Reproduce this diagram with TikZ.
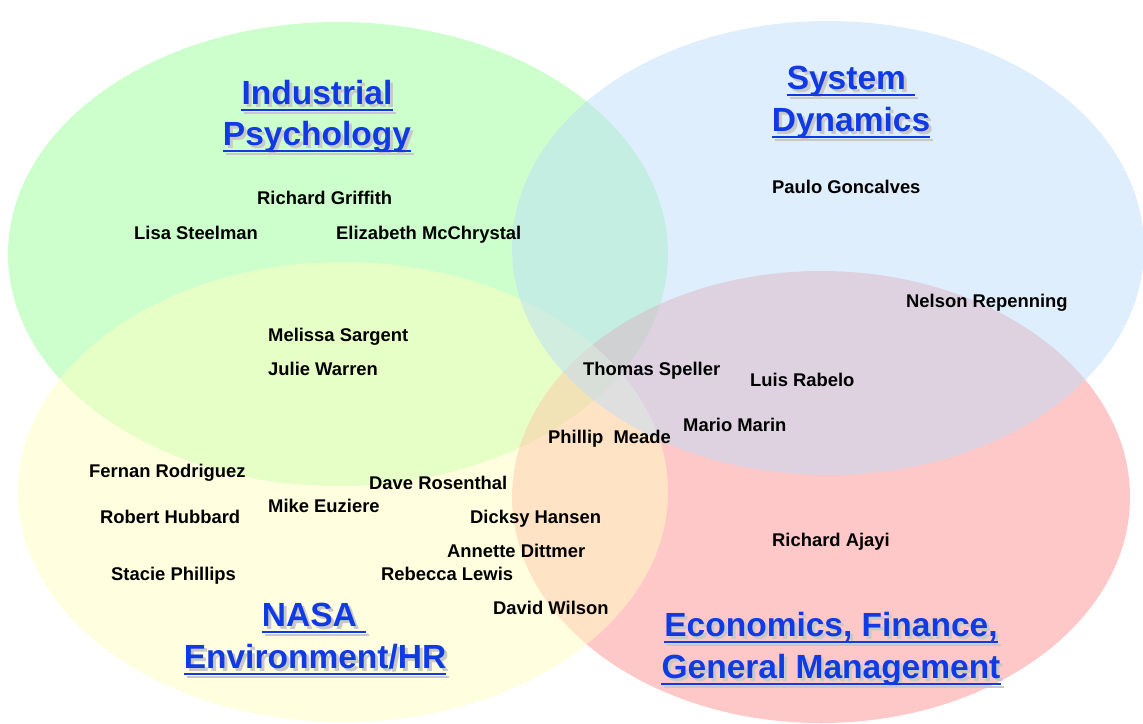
\documentclass[tikz,border=0pt]{standalone}
\usepackage{fontspec}
\setmainfont{Liberation Sans}
\definecolor{ttlblue}{RGB}{16,58,228}
\definecolor{shadowgray}{RGB}{200,200,200}
\definecolor{cgreen}{RGB}{153,255,153}
\definecolor{cblue}{RGB}{189,221,250}
\definecolor{cyellow}{RGB}{255,255,193}
\definecolor{cred}{RGB}{255,145,145}
\newcommand\ttlitem[4]{%
  \node[ttlsh] (#1s) at (#2+3,#3+3) {#4};
  \draw[ushadow] ([yshift=-6pt]#1s.base west) -- ([yshift=-6pt]#1s.base east);
  \node[ttl] (#1) at (#2,#3) {#4};
  \draw[uline] ([yshift=-6pt]#1.base west) -- ([yshift=-6pt]#1.base east);
}
\begin{document}
\begin{tikzpicture}[x=1pt,y=-1pt,
  person/.style={anchor=base west, inner sep=0pt, font=\fontsize{18.4}{20}\selectfont\bfseries},
  ttl/.style={anchor=base, inner sep=0pt, font=\fontsize{33.5}{36}\selectfont\bfseries, text=ttlblue},
  ttlsh/.style={ttl, text=shadowgray},
  uline/.style={draw=ttlblue, line width=2.5pt},
  ushadow/.style={draw=shadowgray, line width=2.5pt},
  blob/.style={fill opacity=0.5, draw=none}]
\useasboundingbox (0,0) rectangle (1143,723);
% circles
\fill[blob, cgreen]  (338,254) ellipse [x radius=330, y radius=232];
\fill[blob, cred]    (821,497) ellipse [x radius=309, y radius=226];
\fill[blob, cyellow] (343,492) ellipse [x radius=325, y radius=230];
\fill[blob, cblue]   (828,248) ellipse [x radius=316, y radius=227];
% titles
\ttlitem{ip1}{317}{104}{Industrial}
\ttlitem{ip2}{317}{145}{Psychology}
\ttlitem{sd1}{851}{89}{System\ \ }
\ttlitem{sd2}{851}{131}{Dynamics}
\ttlitem{na1}{314}{626}{NASA\ \ }
\ttlitem{na2}{315}{668}{Environment/HR}
\ttlitem{ec1}{831}{636}{Economics, Finance,}
\ttlitem{ec2}{831}{678}{General Management}
% people
\node[person] (rg) at (257,204) {Richard Griffith};
\node[person] (ls) at (134,239) {Lisa Steelman};
\node[person] (em) at (336,239) {Elizabeth McChrystal};
\node[person] (pg) at (772,193) {Paulo Goncalves};
\node[person] (nr) at (906,307) {Nelson Repenning};
\node[person] (ms) at (268,341) {Melissa Sargent};
\node[person] (jw) at (268,375) {Julie Warren};
\node[person] (ts) at (583,375) {Thomas Speller};
\node[person] (lr) at (750,386) {Luis Rabelo};
\node[person] (mm) at (683,431) {Mario Marin};
\node[person] (pm) at (548,443) {Phillip\ \ Meade};
\node[person] (fr) at (89,477) {Fernan Rodriguez};
\node[person] (dr) at (369,489) {Dave Rosenthal};
\node[person] (me) at (268,512) {Mike Euziere};
\node[person] (rh) at (100,523) {Robert Hubbard};
\node[person] (dh) at (470,523) {Dicksy Hansen};
\node[person] (ad) at (447,557) {Annette Dittmer};
\node[person] (ra) at (772,546) {Richard Ajayi};
\node[person] (sp) at (111,580) {Stacie Phillips};
\node[person] (rl) at (381,580) {Rebecca Lewis};
\node[person] (dw) at (493,614) {David Wilson};
\end{tikzpicture}
\end{document}
